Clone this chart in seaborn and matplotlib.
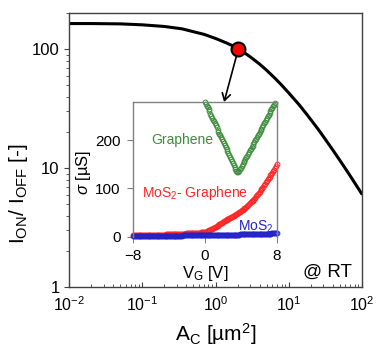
import numpy as np
import pandas as pd
import matplotlib
matplotlib.use("Agg")
import matplotlib.pyplot as plt
import seaborn as sns

sns.set_style("ticks")
plt.rcParams["font.family"] = ["Liberation Sans", "DejaVu Sans"]
plt.rcParams["mathtext.fontset"] = "custom"
plt.rcParams["mathtext.rm"] = "Liberation Sans"
plt.rcParams["mathtext.it"] = "Liberation Sans:italic"
plt.rcParams["text.color"] = "black"
plt.rcParams["axes.labelcolor"] = "black"

# main curve: on/off ratio vs contact area
area = [0.01, 0.02, 0.05, 0.1, 0.2, 0.35, 0.5, 0.7, 1.0, 1.4, 1.7, 2.05, 2.5, 3.0, 4.0, 5.0,
        6.5, 8.0, 10, 14, 18, 25, 30, 40, 50, 65, 80, 100]
ratio = [164, 164, 163, 160, 155, 148, 140, 133, 123, 113, 107, 100, 93, 86, 75, 66.5,
         57, 50, 43, 34, 28, 21.5, 18.4, 14.3, 11.7, 9.2, 7.55, 6.1]
marked = (2.05, 100)

# inset: conductance vs gate voltage (sweep step 0.1 V)
vg_gr = np.round(np.arange(0, 7.81, 0.1), 1)
sig_gr = [280, 276, 272, 268, 264, 260, 255, 251, 247, 243,
          239, 235, 231, 227, 222, 218, 214, 210, 206, 202,
          198, 194, 190, 186, 182, 178, 174, 170, 166, 161,
          157, 152, 148, 144, 140, 137, 135, 135, 137, 140,
          143, 147, 151, 154, 158, 161, 165, 168, 172, 175,
          179, 182, 186, 189, 193, 196, 200, 203, 207, 210,
          214, 217, 221, 224, 228, 231, 235, 238, 242, 246,
          250, 253, 257, 260, 264, 267, 271, 274, 278]

vg = np.round(np.arange(-8, 8.01, 0.1), 1)
sig_hyb = [3, 3, 3, 3, 3, 3, 3, 3, 3, 3, 3, 3, 3, 3, 3, 3, 3.1, 3.2, 3.3, 3.4,
           3.5, 3.5, 3.6, 3.6, 3.7, 3.7, 3.8, 3.8, 3.9, 3.9, 4, 4.1, 4.2, 4.3, 4.4, 4.5, 4.5, 4.6, 4.6, 4.7,
           4.8, 4.9, 5, 5.1, 5.2, 5.3, 5.4, 5.5, 5.6, 5.7, 5.8, 5.9, 6, 6.1, 6.2, 6.3, 6.4, 6.5, 6.6, 6.7,
           6.8, 6.9, 7, 7.1, 7.2, 7.3, 7.4, 7.5, 7.6, 7.7, 7.8, 7.9, 8, 8.2, 8.4, 8.6, 8.8, 9, 9.3, 9.6,
           10,
           10.7, 11.5, 12.3, 13, 13.8, 14.7, 15.5, 16.5, 17.5, 18.5,
           19.5, 20.7, 21.9, 23.1, 24.3, 25.5, 26.8, 28.1, 29.4, 30.7,
           32, 33.2, 34.4, 35.5, 36.6, 37.7, 38.8, 39.8, 40.8, 41.8,
           42.8, 43.8, 44.8, 45.8, 46.9, 48, 49.2, 50.4, 51.7, 53,
           54.4, 55.8, 57.3, 58.8, 60.4, 62, 63.7, 65.4, 67.2, 69,
           71, 73, 75, 77, 79, 81, 83.5, 86, 88.5, 91,
           93.5, 96, 98.5, 101, 104, 107, 110, 113, 116, 119,
           121.5, 124, 127, 130, 133, 136, 139, 142, 146, 150]
sig_mos = [1, 1, 1, 1, 1, 1, 1, 1, 1, 1,
           1, 1, 1, 1.1, 1.1, 1.1, 1.2, 1.2, 1.2, 1.3,
           1.3, 1.3, 1.4, 1.4, 1.4, 1.5, 1.5, 1.5, 1.6, 1.6,
           1.6, 1.7, 1.7, 1.7, 1.8, 1.8, 1.8, 1.9, 1.9, 1.9,
           2, 2, 2, 2.1, 2.1, 2.1, 2.2, 2.2, 2.2, 2.3,
           2.3, 2.3, 2.4, 2.4, 2.4, 2.5, 2.5, 2.5, 2.6, 2.6,
           2.6, 2.7, 2.7, 2.7, 2.8, 2.8, 2.8, 2.9, 2.9, 2.9,
           3, 3, 3, 3, 3, 3, 3, 3, 3, 3,
           3,
           3, 3.1, 3.1, 3.1, 3.2, 3.2, 3.2, 3.3, 3.3, 3.3,
           3.4, 3.4, 3.4, 3.5, 3.5, 3.5, 3.6, 3.6, 3.6, 3.7,
           3.7, 3.7, 3.8, 3.8, 3.9, 3.9, 4, 4, 4.1, 4.1,
           4.2, 4.2, 4.3, 4.3, 4.4, 4.4, 4.5, 4.5, 4.6, 4.6,
           4.7, 4.7, 4.8, 4.8, 4.9, 4.9, 5, 5, 5.1, 5.1,
           5.2, 5.2, 5.3, 5.4, 5.4, 5.5, 5.6, 5.6, 5.7, 5.8,
           5.8, 5.9, 6, 6, 6.1, 6.2, 6.2, 6.3, 6.4, 6.4,
           6.5, 6.6, 6.6, 6.7, 6.8, 6.8, 6.9, 7, 7, 7.1]

green = "#3d8c3d"
red = "#ff2525"
blue = "#2323c8"

fig = plt.figure(figsize=(3.76, 3.47), dpi=100)
ax = fig.add_axes([0.1843, 0.172, 0.7777, 0.7897])

df = pd.DataFrame({"area": area, "ratio": ratio})
sns.lineplot(data=df, x="area", y="ratio", color="black", lw=2.2, ax=ax)
ax.plot(*marked, "o", ms=10, mfc="red", mec="black", mew=1.5, zorder=5)
ax.set_xscale("log")
ax.set_yscale("log")
ax.set_xlim(0.01, 100)
ax.set_ylim(1, 200)
ax.set_yticks([1, 10, 100])
ax.set_yticklabels(["1", "10", "100"])
ax.tick_params(axis="y", which="both", direction="out", labelsize=12, color="#404040", labelcolor="black")
ax.tick_params(axis="x", which="both", direction="in", labelsize=11.5, color="#404040", labelcolor="black", pad=6)
for s in ax.spines.values():
    s.set_color("#404040")
    s.set_linewidth(1)
ax.set_xlabel(r"A$_{\rm C}$ [µm$^2$]", fontsize=15)
ax.set_ylabel(r"I$_{\rm ON}$/ I$_{\rm OFF}$ [-]", fontsize=15)
ax.xaxis.set_label_coords(0.5, -0.125)
ax.yaxis.set_label_coords(-0.135, 0.34)
ax.text(0.967, 0.056, "@ RT", transform=ax.transAxes, ha="right", va="center", fontsize=13.5)
ax.annotate("", xy=(1.31, 36), xytext=marked,
            arrowprops=dict(arrowstyle="->,head_length=0.5,head_width=0.3", color="black", lw=1.2,
                            shrinkA=5, shrinkB=0))

# inset
axi = fig.add_axes([0.3546, 0.3179, 0.3813, 0.389])
mk = dict(marker="o", ls="none", ms=3.4, mfc="none", mew=0.7, clip_on=False)
sns.lineplot(x=vg_gr, y=sig_gr, color=green, mec=green, ax=axi, **mk)
sns.lineplot(x=vg, y=sig_hyb, color=red, mec=red, ax=axi, **mk)
sns.lineplot(x=vg, y=sig_mos, color=blue, mec=blue, ax=axi, **mk)
axi.set_xlim(-8, 8)
axi.set_ylim(0, 280)
axi.set_xticks([-8, 0, 8])
axi.set_yticks([0, 100, 200])
axi.tick_params(labelsize=11, color="#808080", labelcolor="black", length=4, pad=5)
axi.spines["bottom"].set_visible(False)
for k in ["left", "top", "right"]:
    axi.spines[k].set_color("#808080")
    axi.spines[k].set_linewidth(1)
axi.set_xlabel(r"V$_{\rm G}$ [V]", fontsize=12)
axi.set_ylabel(r"$\sigma$ [µS]", fontsize=12)
axi.xaxis.set_label_coords(0.5, -0.2)
axi.yaxis.set_label_coords(-0.28, 0.48)
axi.text(-5.95, 200, "Graphene", color=green, fontsize=10, va="center")
axi.text(-7.06, 91, r"MoS$_2$- Graphene", color=red, fontsize=10, va="center")
axi.text(3.7, 20, r"MoS$_2$", color=blue, fontsize=10, va="center")

fig.savefig("out.png", dpi=100)
